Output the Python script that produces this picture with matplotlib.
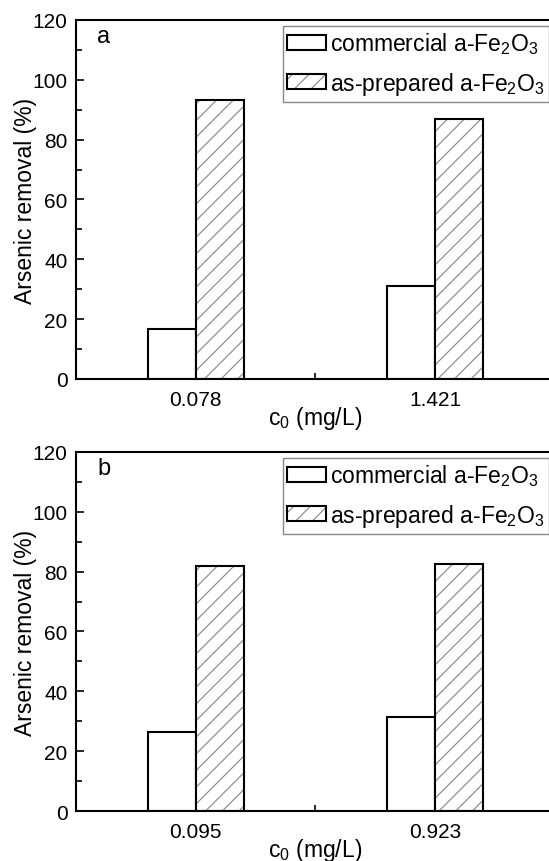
import matplotlib
matplotlib.use('Agg')
import matplotlib.pyplot as plt
from matplotlib.patches import Patch
from matplotlib.legend_handler import HandlerTuple
from matplotlib.ticker import MultipleLocator, FixedLocator
import numpy as np

plt.rcParams['font.family'] = ['Liberation Sans', 'DejaVu Sans']
plt.rcParams['mathtext.fontset'] = 'custom'
plt.rcParams['mathtext.rm'] = 'Liberation Sans'
plt.rcParams['mathtext.it'] = 'Liberation Sans:italic'
plt.rcParams['hatch.linewidth'] = 0.8

# panel a
conc_a = ['0.078', '1.421']
commercial_a = [16.7, 31.0]
prepared_a = [93.1, 87.0]

# panel b
conc_b = ['0.095', '0.923']
commercial_b = [26.3, 31.4]
prepared_b = [82.0, 82.6]

label_com = 'commercial a-Fe$_2$O$_3$'
label_prep = 'as-prepared a-Fe$_2$O$_3$'

fs_tick = 15
fs_lab = 16.5
hatch_col = '#858585'


def draw_panel(ax, conc, commercial, prepared, letter):
    x = np.arange(1, len(conc) + 1)
    w = 0.2
    ax.bar(x - w / 2, commercial, w, facecolor='white', edgecolor='black', linewidth=1.5, zorder=2)
    ax.bar(x + w / 2, prepared, w, facecolor='white', edgecolor=hatch_col, hatch='//', linewidth=0, zorder=2)
    ax.bar(x + w / 2, prepared, w, fill=False, edgecolor='black', linewidth=1.5, zorder=3)

    ax.set_xlim(0.5, 2.5)
    ax.set_ylim(0, 120)
    ax.set_xticks(x)
    ax.set_xticklabels(conc)
    ax.xaxis.set_minor_locator(FixedLocator([1.5]))
    ax.yaxis.set_major_locator(MultipleLocator(20))
    ax.yaxis.set_minor_locator(MultipleLocator(10))
    ax.tick_params(which='both', direction='in', labelsize=fs_tick, width=1.2)
    ax.tick_params(which='major', length=6, pad=6)
    ax.tick_params(axis='x', which='major', pad=8)
    ax.tick_params(which='minor', length=4)
    for sp in ax.spines.values():
        sp.set_linewidth(1.5)

    ax.set_ylabel('Arsenic removal (%)', fontsize=fs_lab, labelpad=-3)
    ax.set_xlabel('c$_0$ (mg/L)', fontsize=fs_lab, labelpad=-4)
    ax.text(0.044, 0.938, letter, transform=ax.transAxes, fontsize=fs_lab + 0.5, va='baseline')

    h1 = Patch(facecolor='white', edgecolor='black', linewidth=1.5)
    h2a = Patch(facecolor='white', edgecolor=hatch_col, hatch='//', linewidth=0)
    h2b = Patch(fill=False, edgecolor='black', linewidth=1.5)
    leg = ax.legend(handles=[h1, (h2a, h2b)], labels=[label_com, label_prep],
                    handler_map={tuple: HandlerTuple(ndivide=1)},
                    loc='upper left', bbox_to_anchor=(0.432, 0.984), borderaxespad=0,
                    fontsize=fs_lab, handlelength=1.66, handleheight=0.62, handletextpad=0.2,
                    borderpad=0.2, labelspacing=0.6, fancybox=False, framealpha=1,
                    edgecolor='#888888')
    leg.get_frame().set_linewidth(1.0)


fig = plt.figure(figsize=(5.49, 8.62), dpi=100)
ax1 = fig.add_axes([0.1384, 0.5592, 0.8725, 0.4165])
ax2 = fig.add_axes([0.1384, 0.0580, 0.8725, 0.4165])

draw_panel(ax1, conc_a, commercial_a, prepared_a, 'a')
draw_panel(ax2, conc_b, commercial_b, prepared_b, 'b')

fig.savefig('out.png', dpi=100)
